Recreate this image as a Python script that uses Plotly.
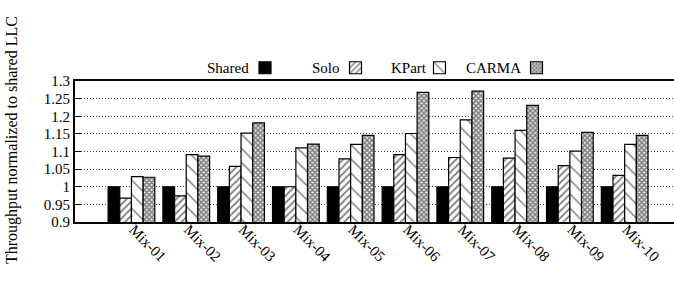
import plotly.graph_objects as go

categories = ["Mix-01", "Mix-02", "Mix-03", "Mix-04", "Mix-05",
              "Mix-06", "Mix-07", "Mix-08", "Mix-09", "Mix-10"]
series_names = ["Shared", "Solo", "KPart", "CARMA"]
shared = [1.0, 1.0, 1.0, 1.0, 1.0, 1.0, 1.0, 1.0, 1.0, 1.0]
solo = [0.968, 0.974, 1.058, 1.0, 1.079, 1.091, 1.083, 1.081, 1.060, 1.032]
kpart = [1.029, 1.091, 1.152, 1.110, 1.120, 1.151, 1.190, 1.160, 1.101, 1.120]
carma = [1.027, 1.087, 1.181, 1.121, 1.146, 1.268, 1.271, 1.231, 1.154, 1.146]
y_tickvals = [0.9, 0.95, 1.0, 1.05, 1.1, 1.15, 1.2, 1.25, 1.3]
y_ticktext = ["0.9", "0.95", "1", "1.05", "1.1", "1.15", "1.2", "1.25", "1.3"]
y_title = "Throughput normalized to shared LLC"

FONT = "Liberation Serif"
W, H = 674, 295
ML, MR, MT, MB = 75, 0, 81, 73
PW, PH = W - ML - MR, H - MT - MB


def px_x(px):
    return (px - ML) / PW


def px_y(py):
    return (H - MB - py) / PH


styles = [
    dict(shape="", size=8, solidity=0.3),
    dict(shape="/", size=5, solidity=0.35),
    dict(shape="\\", size=10, solidity=0.15),
    dict(shape="x", size=3.5, solidity=0.72),
]
values = [shared, solo, kpart, carma]
legend_ids = ["legend", "legend2", "legend3", "legend4"]
legend_text_end = [251, 342, 429, 523]
legend_swatch_c = [267, 357.5, 441.5, 538.5]

fig = go.Figure()
for i, (name, vals) in enumerate(zip(series_names, values)):
    st = styles[i]
    if i == 0:
        marker = dict(color="black", line=dict(color="black", width=1.2))
    else:
        marker = dict(color="white", line=dict(color="black", width=1.2),
                      pattern=dict(shape=st["shape"], size=st["size"],
                                   solidity=st["solidity"], fgcolor="black",
                                   bgcolor="white", fillmode="overlay"))
    fig.add_trace(go.Bar(x=categories, y=vals, name="", marker=marker,
                         legend=legend_ids[i], showlegend=True,
                         hovertemplate=name + ": %{y}<extra></extra>"))

layout_legends = {}
for i, lid in enumerate(legend_ids):
    layout_legends[lid] = dict(
        x=px_x(legend_swatch_c[i] - 22), xanchor="left", xref="paper",
        y=px_y(68), yanchor="middle", yref="paper",
        bgcolor="rgba(0,0,0,0)", borderwidth=0,
        font=dict(family=FONT, size=15, color="black"),
        itemwidth=30, tracegroupgap=0, visible=True,
    )
    fig.add_annotation(text=series_names[i], x=px_x(legend_text_end[i]),
                       y=px_y(68), xref="paper", yref="paper",
                       xanchor="right", yanchor="middle", showarrow=False,
                       font=dict(family=FONT, size=15, color="black"))

fig.update_layout(
    width=W, height=H, autosize=False, showlegend=True,
    margin=dict(l=ML, r=MR, t=MT, b=MB, pad=0, autoexpand=False),
    plot_bgcolor="white", paper_bgcolor="white",
    barmode="group", bargap=0.148, bargroupgap=0,
    font=dict(family=FONT, size=15, color="black"),
    **layout_legends,
)
fig.update_xaxes(type="category", categoryorder="array", categoryarray=categories,
                 range=[-1.03, 9.9], tickangle=45, showgrid=False,
                 showline=True, linecolor="black", linewidth=2, mirror=True,
                 ticks="", ticklabelstandoff=-9, ticklabelshift=2,
                 tickfont=dict(family=FONT, size=15, color="black"))
fig.update_yaxes(range=[0.9, 1.3], tickvals=y_tickvals, ticktext=y_ticktext,
                 showline=True, linecolor="black", linewidth=2,
                 ticks="inside", ticklen=6, tickcolor="black",
                 showgrid=True, gridcolor="#444", griddash="1px,2px", gridwidth=1,
                 zeroline=False, tickfont=dict(family=FONT, size=15, color="black"))
fig.add_annotation(text=y_title, textangle=-90, x=px_x(12), y=px_y(140),
                   xref="paper", yref="paper", showarrow=False,
                   xanchor="center", yanchor="middle",
                   font=dict(family=FONT, size=16, color="black"))
fig.write_html("out.html", config={"displayModeBar": False},
               post_script="document.body.style.margin='0';document.body.style.overflow='hidden';")
